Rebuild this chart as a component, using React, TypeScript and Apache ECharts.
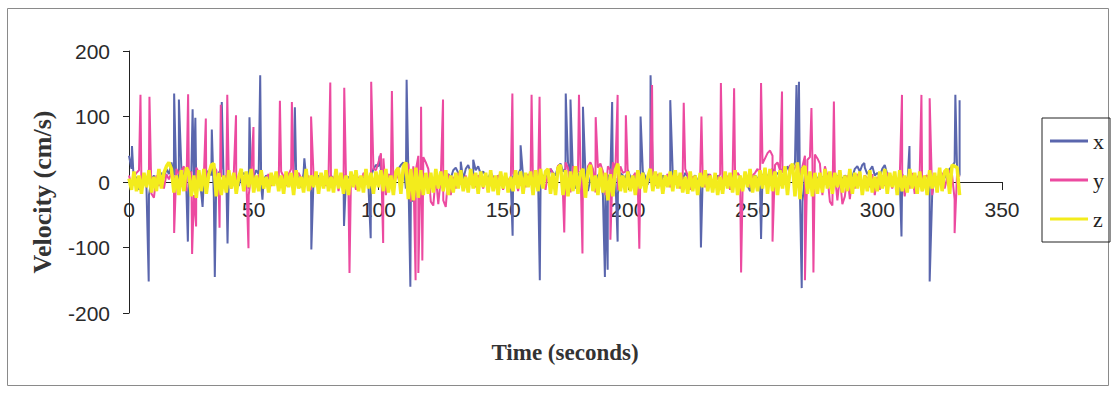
import React, { useEffect, useRef } from "react";
import * as echarts from "echarts";

// Time axis ticks (seconds) and velocity ticks (cm/s)
const X_MIN = 0;
const X_MAX = 350;
const X_STEP = 50;
const Y_MIN = -200;
const Y_MAX = 200;
const Y_STEP = 100;

const SERIES_NAMES = ["x", "y", "z"];

// Baseline velocity, one sample per second (t = index)
const xBase: number[] = [
  40, 20, -5, 8, -12, 6, 2, -8, -20, 4, 10, -6, 8, 14, 6, 20, 12, 30, 10, -8,
  14, 20, 8, -10, 12, 16, 6, -14, 10, -18, 4, 12, 18, 10, -20, 8, 14, 20, -6, 10,
  6, -4, 12, 8, -6, 10, 14, 6, -10, 4, 8, 18, 12, -6, 4, 10, 6, -2, 8, 4,
  10, 6, -4, 8, 12, 4, 10, 16, 6, -8, 14, 8, 2, -10, 6, 4, 10, 2, 8, -4,
  6, 10, 4, 8, -2, 6, 12, 4, 8, 2, 10, 6, -4, 8, 4, 12, -6, 8, 20, 26,
  24, 18, 12, 10, 6, 8, 4, 12, 20, 26, 30, -10, 14, -20, -30, -18, -8, 6, 10, 4,
  -6, 8, 4, 10, -4, 6, 2, 8, 12, 6, 18, 22, 14, 8, 4, 20, 26, 14, 10, 18,
  24, 12, 16, 10, 6, 14, 8, 4, 10, 6, 2, 8, -4, 6, 10, 4, 12, 20, 8, 4,
  6, -2, 8, 4, 10, -6, 8, 12, 6, 20, 14, 10, 24, 28, 16, 20, 30, 12, 8, -10,
  10, 16, -8, 12, -14, 6, 18, -12, 10, 14, -20, -16, 8, 12, -10, 6, -18, 14, 10, 6,
  18, 8, -6, 12, 4, 10, 16, 8, -4, 12, 10, 4, 8, -6, 10, 6, 2, 8, 12, 4,
  6, 10, 4, 14, 8, -4, 6, 10, 2, -8, 6, 4, 12, 8, -6, 4, 10, 2, 8, 6,
  -4, 8, 12, 4, -10, 6, 2, 8, -6, -14, 4, 10, 6, -8, 12, 4, 8, 16, 20, 10,
  14, 8, 20, 12, 24, 16, 22, 30, 18, -20, -30, 10, 14, 6, -8, 10, 4, 12, 6, 8,
  4, 10, -4, 6, 8, 12, 4, 10, 6, 14, 8, 20, 24, 16, 26, 22, 12, 18, 24, 10,
  14, 8, 20, 26, 12, 6, 4, 10, -6, 8, 12, 4, -10, 14, 8, -12, 6, 10, 4, 8,
  -14, 6, -20, 10, 4, 8, 12, 6, 14, 20, 24, 30, 18, 10,
];

const yBase: number[] = [
  10, -6, 8, 14, 18, -12, 6, -8, 20, -18, -24, 10, -6, 8, -10, 12, 4, 14, 8, 20,
  12, 18, 24, -14, 10, 16, -20, 22, 14, -10, 8, -16, 12, 20, 24, 18, -14, 10, 6, -12,
  8, -10, 12, -8, 6, 10, -14, 8, -20, 12, 6, -4, 10, 14, -8, 6, 12, -6, 8, 4,
  -10, 16, 8, -6, 12, 20, -8, 10, 14, 6, -4, 12, 8, -12, 10, 6, -8, 12, 4, -6,
  10, -8, 6, 12, -14, 8, -10, 6, -18, 10, 4, -12, 8, -6, 14, 10, -8, 12, 20, 18,
  30, 44, 36, -20, 12, 8, -10, 14, 6, -8, 12, 20, 28, -30, 24, 18, 40, 36, 38, 30,
  20, -30, -36, 10, -34, 6, -28, -38, 12, -20, 8, -10, 14, 6, -12, 10, -6, 8, 12, -8,
  10, 6, -10, 12, -14, 4, 8, -6, 10, 6, -12, 8, 4, -10, 12, 8, -14, 10, 6, -8,
  12, 8, -10, 14, -6, 10, 4, -12, 16, 20, 12, -14, 26, 18, -20, 30, 22, -16, 24, 20,
  14, 26, 18, -14, 24, 30, 20, -16, 22, 28, 16, -20, 24, 18, 30, 20, -12, 24, 14, 16,
  10, -10, 8, 14, -8, 12, 6, -10, 10, 8, 14, -6, 12, 8, -10, 6, 12, -8, 10, 4,
  8, -10, 14, 20, 10, -12, 8, 6, -14, 12, 10, -8, 6, 12, -10, 8, 4, 12, -6, 10,
  8, -12, 10, 6, 14, 8, -10, 12, 6, -8, 10, 14, 20, 12, 28, 36, 44, 48, 40, 26,
  30, 18, 14, 20, -8, 26, 16, 22, 30, 14, 24, 40, 34, 38, 30, 42, 36, 28, -20, 24,
  10, -30, -36, 12, -28, 8, -34, -22, 10, -26, 6, -10, 12, 8, -14, 10, 6, -8, 12, -20,
  8, -12, 10, -6, 14, 8, -10, 12, -16, 6, 10, -22, 8, -10, 14, -18, 6, 12, -14, 8,
  10, -8, -20, 12, -12, 8, 14, -10, 6, 18, 10, -26, 14, 8,
];

const zBase: number[] = [
  5, -12, 16, -14, 10, -18, 14, -8, 18, -16, 8, -14, 20, -10, 14, 24, 30, 20, -16, 10,
  -20, 18, -14, 22, 14, -22, 10, -24, 18, -14, 20, -18, 12, 26, 28, -22, 14, -20, 10, -16,
  18, -10, 14, -18, 8, 20, -14, 16, -8, 20, -16, 10, -14, 18, -10, 8, -16, 14, -6, 16,
  -14, 10, -18, 16, -8, 14, -20, 18, -10, 8, -16, 20, -14, 10, -8, 16, -18, 14, -10, 18,
  -14, 8, -16, 20, -10, 14, -18, 10, -20, 16, -8, 18, -14, 10, -16, 20, -10, 14, -18, 16,
  -8, 18, -14, 20, -16, 10, -20, 16, 22, -18, 24, 30, -26, 20, -28, 22, -24, 18, -20, 14,
  -18, 14, -16, 20, -10, 16, -14, 18, -20, 10, -16, 14, -10, 18, -14, 8, -16, 20, -10, 14,
  -18, 16, -8, 14, -16, 18, -14, 10, -20, 16, -10, 14, -16, 8, -14, 18, -10, 16, -18, 14,
  -8, 16, -20, 18, -14, 20, -10, 16, 20, -18, 14, -20, 22, 26, -20, 18, -22, 16, -14, 24,
  -18, 14, 20, -24, 16, 26, -14, 10, -20, 22, -16, 14, -28, 12, -22, 18, 28, -14, 10, -16,
  16, -14, 10, -20, 18, -10, 14, -16, 8, 20, -14, 16, -10, 14, -18, 10, -8, 16, -14, 18,
  -10, 14, -16, 8, -18, 16, -14, 10, -20, 14, -8, 18, -14, 10, -16, 14, -20, 8, -18, 16,
  -10, 14, -16, 18, -20, 10, -14, 16, -8, 20, -16, 10, -14, 18, -10, 22, -18, 20, -14, 16,
  -20, 18, -10, 24, -20, 18, 28, -22, 30, -26, 20, 24, -18, 16, -22, 14, -18, 14, -16, 20,
  -10, 16, -18, 14, -8, 18, -16, 10, -14, 20, -18, 14, -10, 16, -20, 10, -14, 18, -16, 8,
  -14, 16, -10, 20, -18, 14, -8, 16, -20, 18, -14, 10, -16, 20, -10, 14, -18, 16, -14, 10,
  -20, 18, -10, 14, -16, 22, -14, 16, 20, -18, 26, 24, 22, -20,
];

// Spikes: [time (s), velocity (cm/s)]
const xSpikes: [number, number][] = [
  [1.2, 55], [7.9, -152], [18.1, 135], [20.0, 126], [23.6, -91], [25.5, 111],
  [26.6, 98], [29.5, -38], [33.2, 80], [34.4, -145], [37.2, 122], [39.5, -94],
  [48.3, 99], [52.6, 163], [53.5, -27], [66.5, 114], [70.3, 36], [73.1, -103],
  [86.2, -67], [96.9, -86], [100.5, 40], [111.3, 156], [112.8, -160], [133.0, 31],
  [138.0, 34], [153.8, -82], [157.0, 56], [164.7, -150], [175.1, 135], [177.0, 126],
  [182.0, 115], [190.8, -145], [191.9, -134], [193.7, 122], [195.9, -91], [205.1, 100],
  [209.1, 163], [217.0, 125], [229.3, -100], [253.4, -87], [267.6, 148], [268.6, 153],
  [269.7, -162], [294.8, 29], [309.7, -83], [312.9, 55], [321.0, -152], [331.3, 133],
  [333.0, 125],
];

const ySpikes: [number, number][] = [
  [4.6, 133], [8.2, 130], [18.1, -78], [23.7, 134], [25.3, -110], [26.9, -68],
  [30.8, 97], [36.3, -70], [36.8, 118], [39.4, 133], [42.9, 102], [47.9, -101],
  [49.9, 84], [60.5, 124], [65.3, 122], [73.0, 100], [80.7, 152], [86.3, 144],
  [88.4, -139], [97.1, 153], [101.9, -93], [105.4, 139], [114.9, -150], [116.0, -139],
  [117.1, 115], [117.6, -120], [125.9, 126], [153.7, 135], [161.4, 133], [164.6, 130],
  [174.5, -77], [180.4, 133], [181.8, -109], [187.1, 99], [193.0, -88], [195.9, 133],
  [199.2, 102], [204.6, -102], [209.7, 148], [222.4, 121], [229.5, 100], [237.3, 151],
  [242.6, 143], [245.4, -138], [253.4, 151], [258.0, -91], [261.8, 138], [271.0, -150],
  [273.6, 113], [274.4, -138], [282.6, 123], [309.9, 133], [317.7, 133], [321.0, 128],
  [331.0, -78],
];

const zSpikes: [number, number][] = [];

function buildSeries(base: number[], spikes: [number, number][]): [number, number][] {
  const pts: [number, number][] = base.map((v, i) => [i, v] as [number, number]);
  spikes.forEach((s) => pts.push([s[0], s[1]]));
  pts.sort((a, b) => a[0] - b[0]);
  return pts;
}

const COLORS = ["#5a66ad", "#ec4aa0", "#f3ec1c"];

const GRID_TOP = 51;
const GRID_BOTTOM = 83;
const CHART_H = 396;

export default function App() {
  const ref = useRef<HTMLDivElement>(null);

  useEffect(() => {
    if (!ref.current) return;
    const chart = echarts.init(ref.current, null, { renderer: "svg" });
    const labelFont = { fontFamily: "Liberation Sans", fontSize: 21, color: "#2a2a2a" };
    const gridH = CHART_H - GRID_TOP - GRID_BOTTOM;
    // place the time axis where velocity = 0
    const zeroOffset = -gridH * (0 - Y_MIN) / (Y_MAX - Y_MIN);
    const option: any = {
      animation: false,
      backgroundColor: "#ffffff",
      grid: { left: 129, right: 111, top: GRID_TOP, bottom: GRID_BOTTOM, containLabel: false },
      xAxis: {
        type: "value",
        min: X_MIN,
        max: X_MAX,
        interval: X_STEP,
        offset: zeroOffset,
        axisLine: { onZero: false, lineStyle: { color: "#222", width: 1 } },
        axisTick: { show: true, inside: false, length: 8, lineStyle: { color: "#222" } },
        axisLabel: { ...labelFont, margin: 17 },
        splitLine: { show: false },
        z: 1,
      },
      yAxis: {
        type: "value",
        min: Y_MIN,
        max: Y_MAX,
        interval: Y_STEP,
        axisLine: { show: true, lineStyle: { color: "#222", width: 1 } },
        axisTick: { show: true, inside: false, length: 6, lineStyle: { color: "#222" } },
        axisLabel: { ...labelFont, margin: 19 },
        splitLine: { show: false },
      },
      legend: {
        orient: "vertical",
        left: 1042,
        top: 118,
        padding: [12, 6, 12, 8],
        itemGap: 17,
        itemWidth: 38,
        itemHeight: 3,
        icon: "rect",
        borderColor: "#222",
        borderWidth: 1,
        textStyle: { fontFamily: "Liberation Serif", fontSize: 22, color: "#222" },
        data: SERIES_NAMES,
      },
      graphic: [
        {
          type: "rect",
          shape: { x: 7.5, y: 8.5, width: 1101, height: 377 },
          style: { fill: "none", stroke: "#8a8a8a", lineWidth: 1 },
          silent: true,
          z: -10,
        },
        {
          type: "text",
          x: 42,
          y: 192,
          rotation: Math.PI / 2,
          style: {
            text: "Velocity (cm/s)",
            fontFamily: "Liberation Serif",
            fontWeight: "bold",
            fontSize: 26,
            fill: "#333",
            textAlign: "center",
            textVerticalAlign: "middle",
          },
        },
        {
          type: "text",
          x: 565,
          y: 352,
          style: {
            text: "Time (seconds)",
            fontFamily: "Liberation Serif",
            fontWeight: "bold",
            fontSize: 23,
            fill: "#333",
            textAlign: "center",
            textVerticalAlign: "middle",
          },
        },
      ],
      series: [
        {
          name: "x",
          type: "line",
          data: buildSeries(xBase, xSpikes),
          symbol: "none",
          lineStyle: { color: COLORS[0], width: 2 },
          itemStyle: { color: COLORS[0] },
          z: 2,
        },
        {
          name: "y",
          type: "line",
          data: buildSeries(yBase, ySpikes),
          symbol: "none",
          lineStyle: { color: COLORS[1], width: 2 },
          itemStyle: { color: COLORS[1] },
          z: 3,
        },
        {
          name: "z",
          type: "line",
          data: buildSeries(zBase, zSpikes),
          symbol: "none",
          lineStyle: { color: COLORS[2], width: 3.5 },
          itemStyle: { color: COLORS[2] },
          z: 4,
        },
      ],
    };
    chart.setOption(option);
    return () => chart.dispose();
  }, []);

  return (
    <div
      ref={ref}
      style={{ position: "absolute", left: 0, top: 0, width: 1113, height: 396, background: "#fff" }}
    />
  );
}
